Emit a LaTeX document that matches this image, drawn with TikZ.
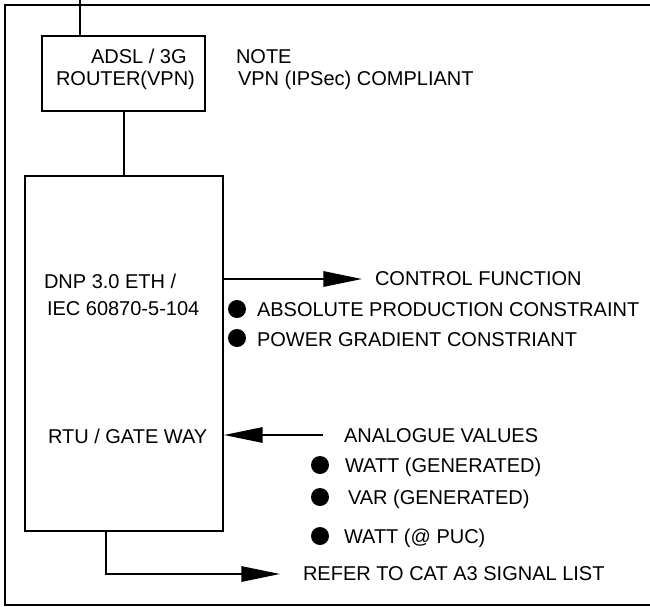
\documentclass[tikz,border=0pt]{standalone}
\usepackage{fontspec}
\setmainfont{Liberation Sans}
\usetikzlibrary{arrows.meta}

\tikzset{
  box/.style={draw, line width=1.5pt, rectangle, inner sep=0pt},
  lbl/.style={anchor=base west, inner sep=0pt},
  dot/.style={fill, circle, minimum size=13.5pt, inner sep=0pt},
  sig/.style={line width=1.5pt, -{Triangle[length=29pt, width=11.5pt]}}
}

\begin{document}
\begin{tikzpicture}[x=0.75pt, y=-0.75pt, line width=1.5pt,
    every node/.style={font=\fontsize{15}{18}\selectfont}]
          \useasboundingbox (0, 0) rectangle (650, 607);

          % Frame
          \draw (650, 5) -- (5, 5) -- (5, 605) -- (650, 605);

          % Boxes
          \node[box, minimum width=122.25pt, minimum height=56.25pt] (router) at (123.5, 73.5) {};
          \node[box, minimum width=148.5pt, minimum height=266.25pt] (rtu) at (124, 353.5) {};

          \node[lbl] (adsl) at (90, 63) {ADSL / 3G};
          \node[lbl] (vpn) at (55, 85) {ROUTER(VPN)};
          \node[lbl] (note) at (235, 63) {NOTE};
          \node[lbl] (ipsec) at (237, 85) {VPN (IPSec) COMPLIANT};
          \node[lbl] (dnp) at (43, 288) {DNP 3.0 ETH /};
          \node[lbl] (iec) at (46, 315) {IEC 60870-5-104};
          \node[lbl] (gw) at (47, 443) {RTU / GATE WAY};

          % Links
          \coordinate (wan) at (80, 0);
          \draw (wan) -- (wan |- router.north);
          \draw (router.south) -- (router.south |- rtu.north);

          % Control function
          \coordinate (ctl) at (362, 279);
          \draw[sig] (ctl -| rtu.east) -- (ctl);
          \node[lbl] (ctltxt) at (374, 285) {CONTROL FUNCTION};
          \node[dot] (d1) at (237, 309) {};
          \node[lbl] (abs) at (256, 316) {ABSOLUTE PRODUCTION CONSTRAINT};
          \node[dot] (d2) at (237, 338) {};
          \node[lbl] (grad) at (256, 346) {POWER GRADIENT CONSTRIANT};

          % Analogue values
          \coordinate (ana) at (323, 435);
          \draw[sig] (ana) -- (ana -| rtu.east);
          \node[lbl] (anatxt) at (343, 442) {ANALOGUE VALUES};
          \node[dot] (d3) at (320, 465) {};
          \node[lbl] (watt) at (344, 472) {WATT (GENERATED)};
          \node[dot] (d4) at (320, 497) {};
          \node[lbl] (var) at (347, 504) {VAR (GENERATED)};
          \node[dot] (d5) at (320, 536) {};
          \node[lbl] (puc) at (343, 543) {WATT (@ PUC)};

          % Signal list
          \coordinate (out) at (106, 574);
          \coordinate (ref) at (280, 574);
          \draw[sig] (out |- rtu.south) -- (out) -- (ref);
          \node[lbl] (reftxt) at (302, 580) {REFER TO CAT A3 SIGNAL LIST};
        \end{tikzpicture}
\end{document}
